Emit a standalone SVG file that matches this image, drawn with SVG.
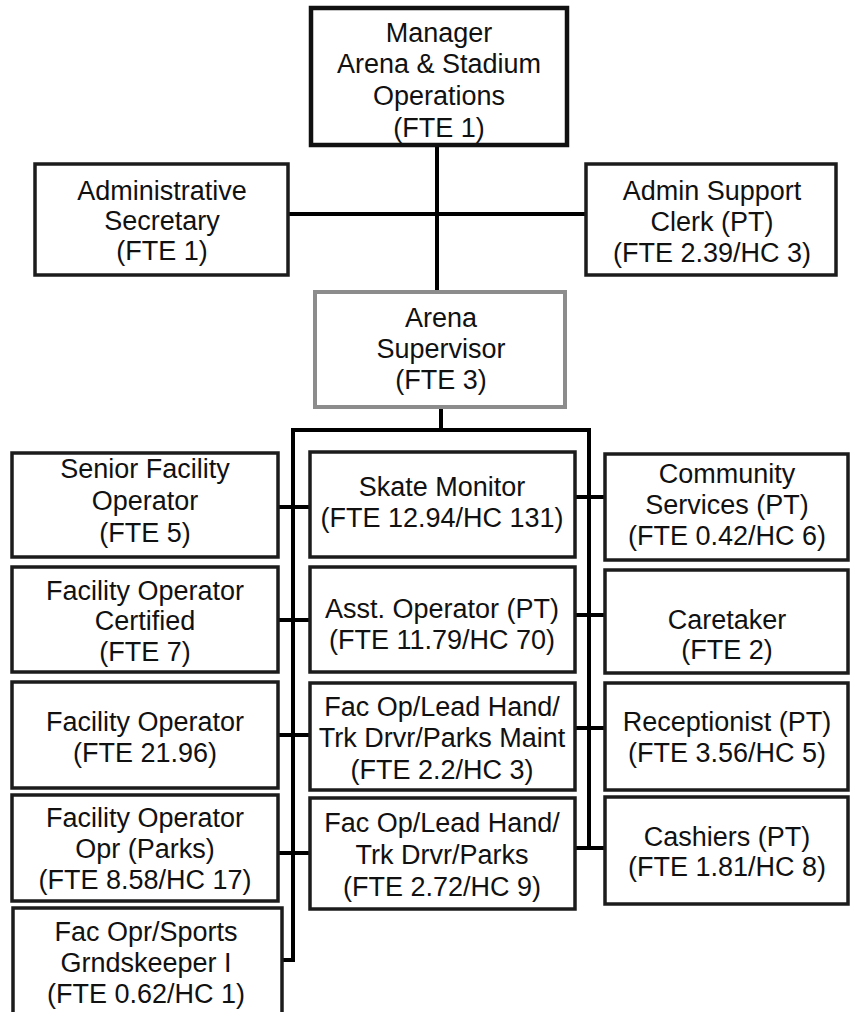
<svg xmlns="http://www.w3.org/2000/svg" width="851" height="1012" viewBox="0 0 851 1012">
<style>
.box{fill:#fff;stroke:#1c1c1c;stroke-width:3.5}
.mgr{fill:#fff;stroke:#111;stroke-width:4.5}
.sup{fill:#fff;stroke:#8c8c8c;stroke-width:4}
.ln{stroke:#000;stroke-width:4;fill:none;stroke-linecap:square}
text{font-family:"Liberation Sans",Arial,sans-serif;font-size:27px;fill:#111;text-anchor:middle}
</style>
<rect width="851" height="1012" fill="#fff"/>
<g id="connectors">
<path class="ln" d="M437,145V292 M288,214H586 M441,407V430 M293,430H589 M293,430V960 M589,430V848"/>
<path class="ln" d="M278,507H310 M278,620H310 M278,735H310 M278,853H310 M282,960H293"/>
<path class="ln" d="M575,497H605 M575,615H605 M575,728H605 M575,848H603"/>
</g>
<g id="manager"><rect class="mgr" x="311" y="8" width="256" height="137"/>
<text x="439" y="42">Manager</text><text x="439" y="73">Arena &amp; Stadium</text><text x="439" y="105">Operations</text><text x="439" y="137">(FTE 1)</text></g>
<g id="admin-secretary"><rect class="box" x="35" y="164" width="253" height="111"/>
<text x="162" y="200">Administrative</text><text x="162" y="230">Secretary</text><text x="162" y="260">(FTE 1)</text></g>
<g id="admin-support"><rect class="box" x="586" y="164" width="250" height="111"/>
<text x="712" y="200">Admin Support</text><text x="712" y="231">Clerk (PT)</text><text x="712" y="262">(FTE 2.39/HC 3)</text></g>
<g id="arena-supervisor"><rect class="sup" x="315" y="292" width="250" height="115"/>
<text x="441" y="327">Arena</text><text x="441" y="358">Supervisor</text><text x="441" y="389">(FTE 3)</text></g>
<g id="senior-facility-operator"><rect class="box" x="12" y="453" width="266" height="104"/>
<text x="145" y="478">Senior Facility</text><text x="145" y="510">Operator</text><text x="145" y="542">(FTE 5)</text></g>
<g id="facility-operator-certified"><rect class="box" x="12" y="567" width="266" height="105"/>
<text x="145" y="600">Facility Operator</text><text x="145" y="630">Certified</text><text x="145" y="661">(FTE 7)</text></g>
<g id="facility-operator"><rect class="box" x="12" y="682" width="266" height="106"/>
<text x="145" y="731">Facility Operator</text><text x="145" y="762">(FTE 21.96)</text></g>
<g id="facility-operator-parks"><rect class="box" x="12" y="795" width="266" height="106"/>
<text x="145" y="827">Facility Operator</text><text x="145" y="858">Opr (Parks)</text><text x="145" y="889">(FTE 8.58/HC 17)</text></g>
<g id="fac-opr-sports"><rect class="box" x="13" y="908" width="269" height="110"/>
<text x="146" y="941">Fac Opr/Sports</text><text x="146" y="972">Grndskeeper I</text><text x="146" y="1003">(FTE 0.62/HC 1)</text></g>
<g id="skate-monitor"><rect class="box" x="310" y="452" width="265" height="105"/>
<text x="442" y="496">Skate Monitor</text><text x="442" y="527">(FTE 12.94/HC 131)</text></g>
<g id="asst-operator"><rect class="box" x="310" y="567" width="265" height="105"/>
<text x="442" y="618">Asst. Operator (PT)</text><text x="442" y="649">(FTE 11.79/HC 70)</text></g>
<g id="fac-op-parks-maint"><rect class="box" x="310" y="683" width="265" height="107"/>
<text x="442" y="716">Fac Op/Lead Hand/</text><text x="442" y="747">Trk Drvr/Parks Maint</text><text x="442" y="779">(FTE 2.2/HC 3)</text></g>
<g id="fac-op-parks"><rect class="box" x="310" y="798" width="265" height="111"/>
<text x="442" y="832">Fac Op/Lead Hand/</text><text x="442" y="864">Trk Drvr/Parks</text><text x="442" y="896">(FTE 2.72/HC 9)</text></g>
<g id="community-services"><rect class="box" x="605" y="454" width="243" height="106"/>
<text x="727" y="483">Community</text><text x="727" y="514">Services (PT)</text><text x="727" y="545">(FTE 0.42/HC 6)</text></g>
<g id="caretaker"><rect class="box" x="605" y="570" width="243" height="103"/>
<text x="727" y="629">Caretaker</text><text x="727" y="659">(FTE 2)</text></g>
<g id="receptionist"><rect class="box" x="605" y="683" width="243" height="107"/>
<text x="727" y="731">Receptionist (PT)</text><text x="727" y="762">(FTE 3.56/HC 5)</text></g>
<g id="cashiers"><rect class="box" x="605" y="797" width="243" height="107"/>
<text x="727" y="846">Cashiers (PT)</text><text x="727" y="876">(FTE 1.81/HC 8)</text></g>
</svg>
